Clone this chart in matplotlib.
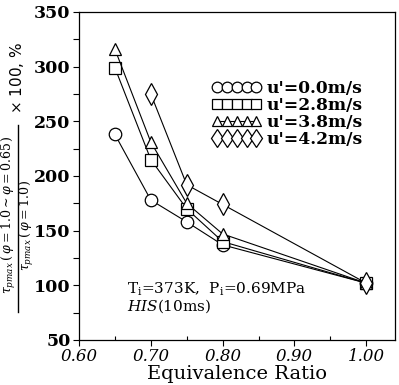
import matplotlib
matplotlib.use("Agg")
import matplotlib.pyplot as plt
from matplotlib.lines import Line2D
from matplotlib.ticker import MultipleLocator, FormatStrFormatter

# Data
phi_circ = [0.65, 0.70, 0.75, 0.80, 1.00]
val_circ = [238, 178, 158, 137, 102]
phi_sq = [0.65, 0.70, 0.75, 0.80, 1.00]
val_sq = [299, 215, 170, 140, 102]
phi_tri = [0.65, 0.70, 0.75, 0.80, 1.00]
val_tri = [316, 231, 175, 147, 102]
phi_dia = [0.70, 0.75, 0.80, 1.00]
val_dia = [275, 192, 174, 102]
labels = ["u'=0.0m/s", "u'=2.8m/s", "u'=3.8m/s", "u'=4.2m/s"]

plt.rcParams['font.family'] = ['DejaVu Serif']
plt.rcParams['mathtext.fontset'] = 'dejavuserif'

W, H = 399, 385
fig = plt.figure(figsize=(W/100, H/100), dpi=100)
ax = fig.add_axes([79/W, 1-340/H, (395-79)/W, (340-12)/H])

common = dict(color='black', lw=0.8, mfc='white', mec='black', mew=0.9)
ax.plot(phi_circ, val_circ, marker='o', ms=9, label=labels[0], **common)
ax.plot(phi_sq, val_sq, marker='s', ms=8, label=labels[1], **common)
ax.plot(phi_tri, val_tri, marker='^', ms=9, label=labels[2], **common)
ax.plot(phi_dia, val_dia, marker='d', ms=11, label=labels[3], **common)

ax.set_xlim(0.6, 1.04)
ax.set_ylim(50, 350)
ax.xaxis.set_major_locator(MultipleLocator(0.1))
ax.xaxis.set_minor_locator(MultipleLocator(0.05))
ax.yaxis.set_major_locator(MultipleLocator(50))
ax.yaxis.set_minor_locator(MultipleLocator(25))
ax.xaxis.set_major_formatter(FormatStrFormatter('%.2f'))
ax.tick_params(axis='x', which='major', direction='out', length=4, width=0.8, pad=2)
ax.tick_params(axis='x', which='minor', direction='in', length=3, width=0.8)
ax.tick_params(axis='y', which='both', direction='out', length=4, width=0.8, pad=2)
for lab in ax.get_yticklabels():
    lab.set_fontsize(12.5)
    lab.set_fontweight('bold')
for lab in ax.get_xticklabels():
    lab.set_fontsize(12)
    lab.set_fontstyle('italic')
for s in ax.spines.values():
    s.set_linewidth(0.9)

ax.set_xlabel('Equivalence Ratio', fontsize=14, labelpad=0)

# y label built as a fraction
fig.text(9.5/W, 1-215/H, r'$\tau_{pmax}\,(\,\varphi=1.0\sim\varphi=0.65\,)$',
         rotation=90, ha='center', va='center', fontsize=9)
fig.text(26.5/W, 1-225/H, r'$\tau_{pmax}\,(\,\varphi=1.0\,)$',
         rotation=90, ha='center', va='center', fontsize=9)
fig.add_artist(Line2D([17.5/W, 17.5/W], [1-125/H, 1-312/H], transform=fig.transFigure,
                      color='black', lw=1.0))
fig.text(17/W, 1-78/H, r'$\times$ 100, %', rotation=90, ha='center', va='center',
         fontsize=11, family=['DejaVu Sans'])

leg = ax.legend(loc='upper left', bbox_to_anchor=((212-79)/316, 1 - (80-12)/328),
                frameon=False, numpoints=5, handlelength=2.9, handletextpad=0.3,
                labelspacing=0.0, fontsize=12.3, borderaxespad=0.0, borderpad=0.0,
                markerscale=0.85)
for t in leg.get_texts():
    t.set_fontweight('bold')

ax.text(0.153, 0.141, r'T$_{\rm i}$=373K,  P$_{\rm i}$=0.69MPa', transform=ax.transAxes,
        fontsize=11, ha='left', va='baseline')
ax.text(0.153, 0.088, r'$\it{HIS}$(10ms)', transform=ax.transAxes,
        fontsize=11, ha='left', va='baseline')

fig.savefig('out.png', dpi=100)
